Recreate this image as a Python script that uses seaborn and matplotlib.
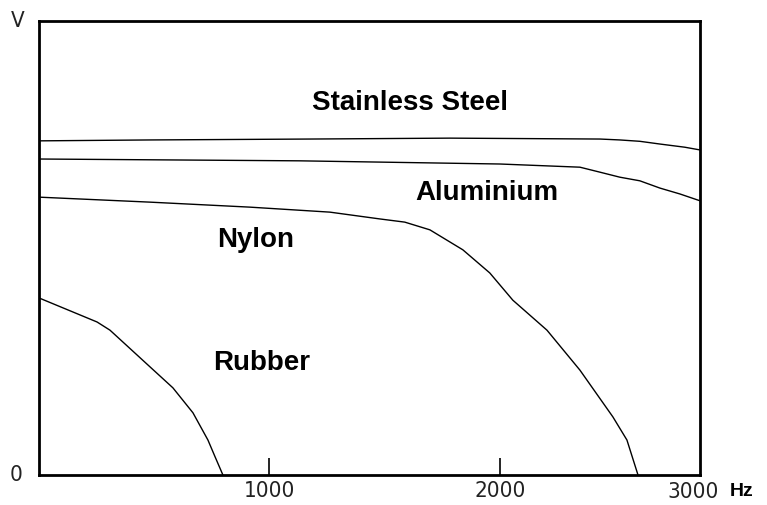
import numpy as np
import pandas as pd
import matplotlib
matplotlib.use("Agg")
import matplotlib.pyplot as plt
import seaborn as sns

# values: frequency in Hz, amplitude as fraction of axis height
steel_hz = [0, 482, 1176, 1783, 2434, 2520, 2607, 2694, 2802, 2868]
steel_v = [0.736, 0.738, 0.740, 0.742, 0.740, 0.738, 0.735, 0.729, 0.722, 0.716]

alu_hz = [0, 1132, 2000, 2347, 2434, 2520, 2607, 2694, 2781, 2868]
alu_v = [0.696, 0.692, 0.685, 0.678, 0.667, 0.656, 0.648, 0.632, 0.619, 0.604]

nylon_hz = [0, 482, 915, 1262, 1479, 1587, 1696, 1839, 1956, 2056, 2204, 2347, 2490, 2551, 2599]
nylon_v = [0.612, 0.601, 0.590, 0.579, 0.564, 0.557, 0.540, 0.496, 0.445, 0.385, 0.319, 0.231, 0.128, 0.077, 0.0]

rubber_hz = [0, 252, 308, 482, 581, 668, 733, 764, 798]
rubber_v = [0.390, 0.337, 0.319, 0.238, 0.192, 0.137, 0.077, 0.040, 0.0]

tick_pos = [1000, 2000]
tick_labels = ["1000", "2000"]

sns.set_style("white")
plt.rcParams["font.family"] = ["Liberation Sans", "DejaVu Sans"]

fig = plt.figure(figsize=(7.67, 5.05), dpi=100)
ax = fig.add_axes([39 / 767, 30 / 505, 661 / 767, 454 / 505])

for hz, v in [(steel_hz, steel_v), (alu_hz, alu_v), (nylon_hz, nylon_v), (rubber_hz, rubber_v)]:
    df = pd.DataFrame({"hz": hz, "v": v})
    sns.lineplot(data=df, x="hz", y="v", ax=ax, color="black", linewidth=1.0,
                 estimator=None, sort=False)

ax.set_xlim(0, 2868)
ax.set_ylim(0, 1)
ax.set_xlabel("")
ax.set_ylabel("")
ax.set_yticks([])
ax.set_xticks(tick_pos)
narrow = dict(family="DejaVu Sans", stretch="condensed", fontsize=16, color="#222222")
ax.set_xticklabels(tick_labels, **narrow)
ax.tick_params(axis="x", direction="in", length=12, width=1.2, pad=4, bottom=True, color="black")
for s in ax.spines.values():
    s.set_linewidth(2)
    s.set_color("black")

ax.text(0.989, -0.037, "3000", transform=ax.transAxes, ha="center", va="center", **narrow)
ax.text(1.0635, -0.037, "Hz", transform=ax.transAxes, ha="center", va="center",
        fontsize=14, fontweight="bold", color="black")
ax.text(-0.035, 0.0, "0", transform=ax.transAxes, ha="center", va="center", **narrow)
ax.text(-0.032, 1.0, "V", transform=ax.transAxes, ha="center", va="center", **narrow)

lab = dict(fontsize=20, fontweight="bold", ha="center", va="center", color="black")
ax.text(1609, 0.819, "Stainless Steel", **lab)
ax.text(1943, 0.621, "Aluminium", **lab)
ax.text(941, 0.518, "Nylon", **lab)
ax.text(967, 0.247, "Rubber", **lab)

fig.savefig("out.png", dpi=100, facecolor="white")
